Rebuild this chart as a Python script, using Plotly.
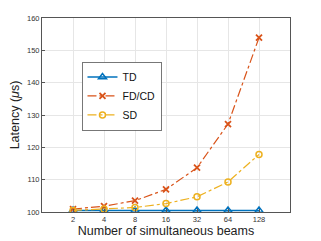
import plotly.graph_objects as go

beams = [2, 4, 8, 16, 32, 64, 128]
td = [100.5, 100.5, 100.5, 100.5, 100.5, 100.5, 100.5]
fdcd = [100.9, 101.8, 103.5, 107.0, 113.7, 127.2, 153.9]
sd = [100.5, 100.9, 101.4, 102.6, 104.7, 109.3, 117.8]
yticks = [100, 110, 120, 130, 140, 150, 160]

fig = go.Figure()
fig.add_trace(go.Scatter(x=beams, y=td, name="TD", mode="lines+markers",
                         line=dict(color="#0072BD", width=1.5),
                         marker=dict(symbol="triangle-up-open", size=7, color="#0072BD", line=dict(width=1.5))))
fig.add_trace(go.Scatter(x=beams, y=fdcd, name="FD/CD", mode="lines+markers",
                         line=dict(color="#D95319", width=1.2, dash="dashdot"),
                         marker=dict(symbol="x-thin-open", size=6, color="#D95319", line=dict(width=1.8, color="#D95319"))))
fig.add_trace(go.Scatter(x=beams, y=sd, name="SD", mode="lines+markers",
                         line=dict(color="#EDB120", width=1.2, dash="dashdot"),
                         marker=dict(symbol="circle-open", size=6, color="#EDB120", line=dict(width=1.5))))

axis_common = dict(showline=True, linecolor="#555", linewidth=1, mirror=True,
                   ticks="inside", ticklen=3, tickcolor="#555",
                   showgrid=True, gridcolor="#e6e6e6", zeroline=False, automargin=False,
                   tickfont=dict(family="Liberation Sans, Arial", size=7.5, color="#333"))

fig.update_xaxes(type="log", range=[0, 2.40824], tickvals=beams, ticktext=[str(b) for b in beams],
                 title=dict(text="Number of simultaneous beams", font=dict(family="Liberation Sans, Arial", size=12.5, color="#222"), standoff=2),
                 **axis_common)
fig.update_yaxes(range=[100, 160], tickvals=yticks,
                 title=dict(text="Latency (<i>μ</i>s)", font=dict(family="Liberation Sans, Arial", size=12.5, color="#222"), standoff=4),
                 **axis_common)

fig.update_layout(width=321, height=241, margin=dict(l=42, r=31, t=18, b=29),
                  paper_bgcolor="white", plot_bgcolor="white",
                  legend=dict(x=0.16, y=0.775, xanchor="left", yanchor="top",
                              bgcolor="white", bordercolor="#555", borderwidth=0.8,
                              font=dict(family="Liberation Sans, Arial", size=10.5, color="#111"),
                              itemwidth=30, tracegroupgap=0))

fig.write_html("out.html", config={"displayModeBar": False},
               post_script="document.body.style.margin='0';document.body.style.overflow='hidden';")
